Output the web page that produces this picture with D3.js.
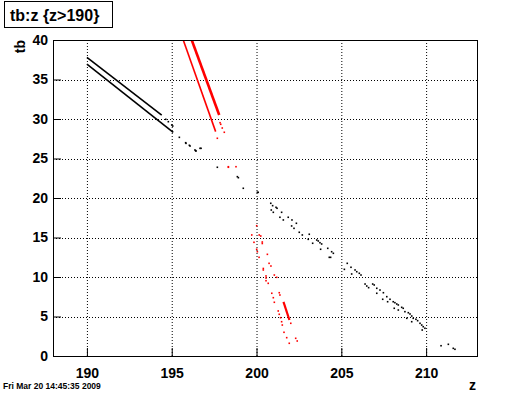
<!DOCTYPE html>
<html>
<head>
<meta charset="utf-8">
<script src="https://cdn.jsdelivr.net/npm/d3@7"></script>
<style>
  body { margin: 0; background: #fff; }
  text { font-family: "Liberation Sans", Arial, Helvetica, sans-serif; font-weight: bold; }
</style>
</head>
<body>
<div id="chart"></div>
<script>
// canvas
const width = 530,
  height = 396,
  margin = {top: 40, right: 53, bottom: 40, left: 53}

// axis ranges / ticks
const zDomain = [188, 213]
const tbDomain = [0, 40]
const zTicks = [190, 195, 200, 205, 210]
const tbTicks = [0, 5, 10, 15, 20, 25, 30, 35, 40]

// dense tracks: [z0, tb0, z1, tb1]
const blackTracks = [
  [190.0, 37.8, 194.41, 30.5],
  [190.0, 36.96, 195.09, 28.32]
]
const redTracks = [
  [195.68, 40.0, 197.59, 28.4],
  [196.18, 40.0, 197.8, 30.5],
  [201.59, 6.84, 201.94, 4.56]
]

// single hits, black
const blackZ = [194.65, 194.8, 195.0, 195.06, 195.45, 195.82, 195.84, 196.04, 196.08, 196.37,
  196.41, 196.43, 196.67, 196.73, 197.69, 198.87, 198.93, 199.22, 200.05, 200.1,
  200.84, 200.95, 201.15, 201.21, 200.87, 200.99, 201.48, 201.38, 201.58, 201.87,
  202.09, 202.07, 202.35, 202.21, 202.52, 202.7, 203.11, 203.05, 203.31, 203.55,
  203.64, 203.74, 203.84, 203.78, 204.2, 204.43, 204.53, 204.29, 204.37, 205.35,
  205.18, 205.57, 205.81, 205.91, 206.06, 206.16, 205.61, 206.4, 206.5, 206.61,
  206.85, 206.94, 207.09, 207.28, 207.48, 207.09, 207.44, 207.68, 207.73, 207.87,
  208.06, 208.16, 208.27, 208.36, 208.56, 208.65, 208.12, 208.36, 208.75, 208.95,
  209.05, 209.15, 208.86, 209.24, 209.4, 209.15, 209.5, 209.64, 209.74, 209.83,
  209.93, 209.77, 210.88, 211.31, 211.6, 211.7]
const blackTb = [29.96, 29.66, 29.24, 29.11, 27.68, 27.0, 26.92, 26.67, 26.58, 26.08,
  25.99, 25.95, 26.29, 26.29, 23.89, 22.7, 22.57, 21.23, 20.72, 20.72,
  19.33, 19.03, 18.82, 18.7, 18.48, 18.19, 18.19, 17.56, 17.22, 17.56,
  17.22, 16.46, 16.8, 16.16, 15.66, 15.32, 15.41, 14.77, 14.27, 14.68,
  14.56, 14.34, 14.18, 13.51, 13.63, 13.2, 13.0, 12.49, 12.49, 11.73,
  10.97, 11.23, 10.89, 10.67, 10.47, 10.25, 10.38, 9.11, 8.86, 8.65,
  9.11, 8.99, 8.57, 8.35, 8.01, 7.94, 7.18, 7.51, 6.87, 7.18,
  6.87, 6.75, 6.58, 6.46, 6.16, 6.04, 6.04, 5.82, 5.61, 5.48,
  5.32, 5.06, 4.77, 4.77, 4.65, 4.34, 4.47, 4.14, 3.92, 3.71,
  3.51, 3.29, 1.3, 1.48, 0.97, 0.85]

// single hits, red
const redZ = [197.69, 197.85, 197.89, 197.98, 198.1, 198.34, 198.34, 198.79,
  200.01, 199.72, 200.16, 200.25, 200.34, 200.34, 199.85, 200.01, 200.05, 200.64,
  200.15, 200.74, 200.85, 200.4, 200.4, 200.56, 200.56, 200.56, 200.69, 201.05,
  201.19, 200.9, 200.99, 201.05, 201.34, 201.38, 201.28, 201.34, 201.42, 201.48,
  201.52, 201.62, 201.78, 201.93, 202.31, 202.4, 202.02]
const redTb = [27.56, 29.53, 29.33, 28.86, 28.32, 23.96, 23.89, 23.96,
  16.49, 15.32, 15.32, 15.19, 14.43, 14.24, 14.39, 13.51, 13.2, 12.87,
  12.49, 11.73, 11.39, 11.08, 10.89, 10.13, 9.87, 9.53, 9.2, 10.25,
  9.96, 7.94, 7.38, 6.8, 8.01, 7.72, 5.7, 5.28, 4.85, 4.34,
  3.92, 3.0, 2.32, 1.61, 2.24, 1.9, 4.14]

const svg = d3.select('#chart')
  .append('svg')
  .attr('width', width)
  .attr('height', height)

const x = d3.scaleLinear().domain(zDomain).range([margin.left, width - margin.right])
const y = d3.scaleLinear().domain(tbDomain).range([height - margin.bottom, margin.top])

// grid (dotted, at labelled ticks)
svg.append('g').selectAll('line')
  .data(zTicks)
  .enter().append('line')
  .attr('x1', d => x(d) + 0.5).attr('x2', d => x(d) + 0.5)
  .attr('y1', y(40)).attr('y2', y(0))
  .attr('stroke', '#000').attr('stroke-dasharray', '1,2')
svg.append('g').selectAll('line')
  .data(tbTicks.slice(1, -1))
  .enter().append('line')
  .attr('x1', x(188)).attr('x2', x(213))
  .attr('y1', d => Math.round(y(d)) + 0.5).attr('y2', d => Math.round(y(d)) + 0.5)
  .attr('stroke', '#000').attr('stroke-dasharray', '1,2')

// data, clipped to the frame
svg.append('clipPath').attr('id', 'frame')
  .append('rect')
  .attr('x', x(188)).attr('y', y(40))
  .attr('width', x(213) - x(188)).attr('height', y(0) - y(40))
const plot = svg.append('g').attr('clip-path', 'url(#frame)')

const trackWidth = [1.6, 1.6, 1.6, 2.6, 2.2]
const tracks = blackTracks.map(t => ({t: t, c: '#000'}))
  .concat(redTracks.map(t => ({t: t, c: '#f00'})))
plot.selectAll('line.track')
  .data(tracks)
  .enter().append('line')
  .attr('class', 'track')
  .attr('x1', d => x(d.t[0])).attr('y1', d => y(d.t[1]))
  .attr('x2', d => x(d.t[2])).attr('y2', d => y(d.t[3]))
  .attr('stroke', d => d.c)
  .attr('stroke-width', (d, i) => trackWidth[i])

let hits = blackZ.map((z, i) => ({z: z, tb: blackTb[i], c: '#000'}))
  .concat(redZ.map((z, i) => ({z: z, tb: redTb[i], c: '#f00'})))
plot.selectAll('rect.hit')
  .data(hits)
  .enter().append('rect')
  .attr('class', 'hit')
  .attr('x', d => x(d.z) - 0.8)
  .attr('y', d => y(d.tb) - 0.8)
  .attr('width', 1.6).attr('height', 1.6)
  .attr('fill', d => d.c)

// axes, ticks inward
const xAxis = d3.axisBottom(x).tickValues(zTicks).tickSize(-8).tickPadding(12).tickFormat(d3.format('d'))
const xMinor = d3.axisBottom(x).tickValues(d3.range(188, 214, 1)).tickSize(-4).tickFormat('')
const yAxis = d3.axisLeft(y).tickValues(tbTicks).tickSize(-8).tickPadding(5).tickFormat(d3.format('d'))
const yMinor = d3.axisLeft(y).tickValues(d3.range(0, 41, 1)).tickSize(-4).tickFormat('')

const gx = svg.append('g').attr('transform', `translate(0,${y(0)})`)
gx.call(xMinor)
gx.call(xAxis)
const gy = svg.append('g').attr('transform', `translate(${x(188)},0)`)
gy.call(yMinor)
gy.call(yAxis)
svg.selectAll('.domain').remove()
svg.selectAll('.tick text').attr('font-size', 14).attr('fill', '#000')
  .style('font-family', '"Liberation Sans", Arial, sans-serif').style('font-weight', 'bold')
svg.selectAll('.tick line').attr('stroke', '#000')

// frame
svg.append('rect')
  .attr('x', x(188) + 0.5).attr('y', y(40) + 0.5)
  .attr('width', x(213) - x(188)).attr('height', y(0) - y(40))
  .attr('fill', 'none').attr('stroke', '#000')

// axis titles
svg.append('text')
  .attr('transform', `translate(25,${y(40)}) rotate(-90)`)
  .attr('text-anchor', 'end')
  .attr('font-size', 14)
  .text('tb')
svg.append('text')
  .attr('x', x(213) - 1).attr('y', 390)
  .attr('text-anchor', 'end')
  .attr('font-size', 14)
  .text('z')

// title box
svg.append('rect')
  .attr('x', 4.5).attr('y', 1.5).attr('width', 108).attr('height', 26)
  .attr('fill', '#fff').attr('stroke', '#000')
svg.append('text')
  .attr('x', 10).attr('y', 21)
  .attr('font-size', 16)
  .text('tb:z {z>190}')

// date stamp
svg.append('text')
  .attr('x', 3).attr('y', 389)
  .attr('font-size', 8.5)
  .text('Fri Mar 20 14:45:35 2009')
</script>
</body>
</html>
